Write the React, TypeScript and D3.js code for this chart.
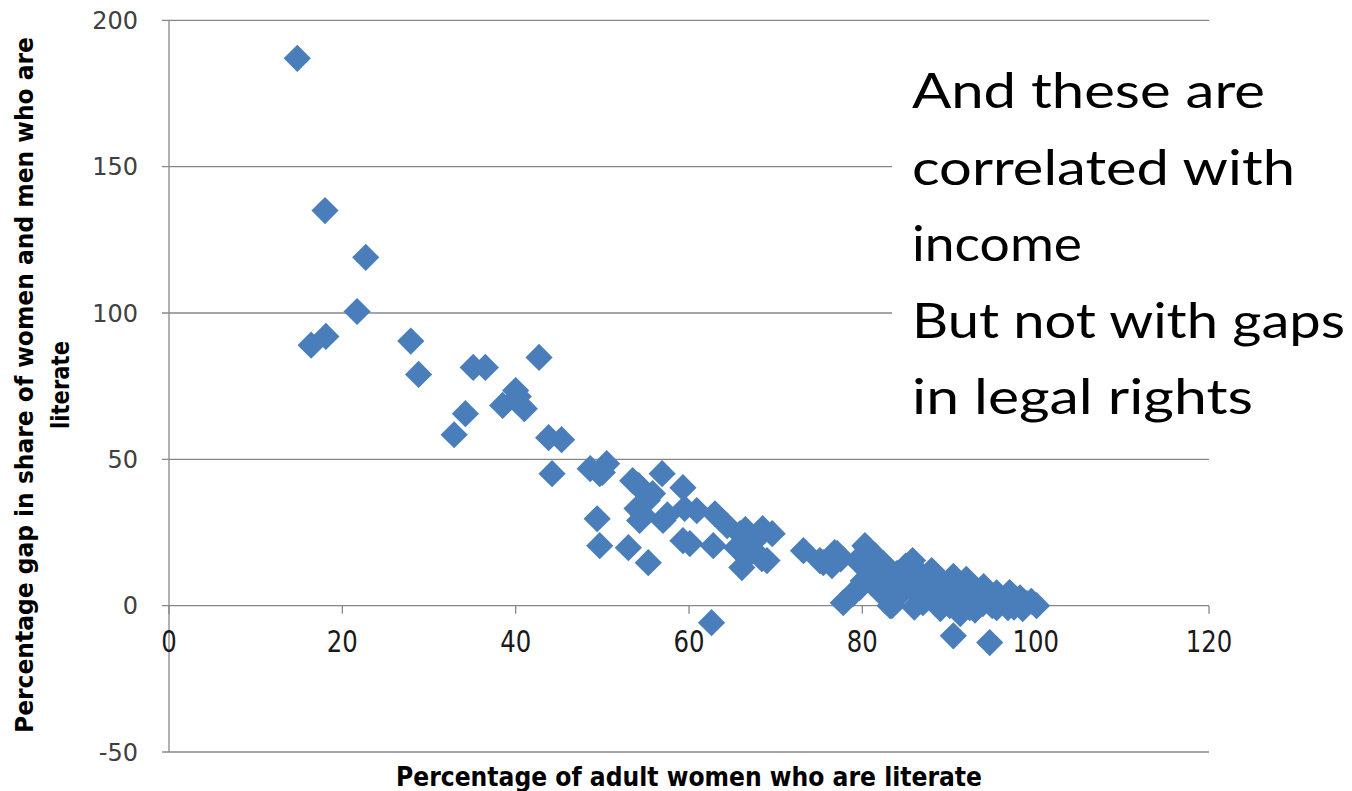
import * as d3 from "d3";

// women's literacy (%) vs literacy gap women/men (%)
const literacyWomen = [
  14.8, 18.0, 22.7, 21.7, 16.4, 18.1, 27.9, 28.8, 35.1, 36.5, 42.7, 34.2, 32.9, 40.0, 40.3, 38.5, 41.0, 43.8, 45.3, 44.2,
  48.6, 50.5, 50.0, 49.7, 53.5, 54.2, 56.9, 54.7, 55.8, 55.2, 59.3, 54.0, 54.3, 54.7, 57.0, 57.5, 59.5, 60.9, 63.0, 64.4,
  65.9, 66.5, 68.5, 69.6, 59.3, 60.1, 62.8, 65.5, 66.1, 67.0, 68.4, 67.5, 66.0, 49.4, 49.7, 53.0, 55.3, 62.6, 73.2, 75.5,
  76.8, 76.5, 77.5, 69.0, 75.1, 77.1,
  80.3, 79.4, 80.9, 82.4, 83.2, 81.5, 80.1, 81.2, 82.4, 81.0, 84.0, 77.8, 78.9, 83.2, 84.7, 85.8, 85.5, 86.6, 86.3, 87.0,
  88.2, 89.0, 90.1, 91.6, 92.5, 88.6, 89.5, 90.1, 91.3, 92.4, 93.6, 95.5, 96.7, 98.2, 100.1, 99.0, 93.9, 95.5, 96.8, 98.5,
  97.5, 94.5, 87.5, 90.5, 94.7, 85.8, 88.0, 92.0, 90.5, 94.0, 97.0, 89.0, 91.0, 86.0, 93.0, 95.0, 79.7, 83.4, 80.5,
  82.0, 83.5, 84.5, 86.0, 87.5, 88.5, 90.0, 91.5, 92.5, 94.0, 96.0, 97.5, 99.5, 89.0, 87.0, 84.0, 82.0, 95.0, 91.0, 86.5,
  88.5, 85.0, 93.0, 96.5,
];
const literacyGap = [
  187.0, 135.0, 119.0, 100.5, 89.0, 92.0, 90.4, 79.0, 81.4, 81.4, 84.8, 65.6, 58.4, 73.5, 71.5, 68.4, 67.3, 57.4, 56.7, 45.1,
  46.8, 48.5, 45.5, 45.1, 42.7, 41.0, 45.1, 39.3, 38.3, 36.0, 40.3, 33.2, 29.1, 31.0, 29.1, 31.0, 33.2, 32.5, 31.4, 27.3,
  24.6, 26.0, 26.3, 24.6, 22.2, 21.2, 20.5, 19.8, 13.0, 17.8, 16.1, 22.0, 21.0, 29.7, 20.5, 19.8, 14.7, -5.8, 18.8, 14.7,
  18.1, 13.7, 16.0, 15.4, 15.4, 17.8,
  20.5, 15.4, 15.4, 14.4, 12.0, 17.0, 8.5, 7.5, 8.5, 11.0, 11.0, 1.0, 4.1, 0.0, 5.1, 12.0, 8.5, 8.5, 4.1, 10.0,
  9.2, 8.5, 7.5, 6.2, 5.0, 1.7, 4.0, 0.0, -2.7, -0.7, 1.7, 4.4, 3.4, 2.7, 0.0, 0.7, 0.7, -0.7, -0.7, -1.0,
  1.0, 3.0, 3.0, -10.3, -12.6, 15.4, 12.0, 9.0, 10.0, 6.5, 4.5, 3.0, 2.0, -0.5, -1.5, 1.5, 6.2, 0.0, 19.8,
  13.0, 9.0, 7.0, 6.0, 6.5, 5.0, 4.0, 3.5, 2.5, 2.0, 1.5, -0.5, 1.5, -1.0, 1.0, 3.0, 5.0, 0.0, 0.5, 10.5,
  10.0, 13.5, 4.0, 2.0,
];
const xTicks = [0, 20, 40, 60, 80, 100, 120];
const yTicks = [-50, 0, 50, 100, 150, 200];
const noteLines = ["And these are", "correlated with", "income", "But not with gaps", "in legal rights"];
const noteWidths = [353, 383, 170, 433, 341];

const W = 1352;
const H = 791;
const GRID = "#878787";
const BLUE = "#4a7ebb";
const NARROW = "'Liberation Sans Narrow', 'DejaVu Sans Condensed', 'Liberation Sans', Arial, sans-serif";

export default function App() {
  const x = d3.scaleLinear().domain([0, 120]).range([169, 1209]);
  const y = d3.scaleLinear().domain([-50, 200]).range([752, 20.3]);
  const diamond = d3.symbol(d3.symbolSquare, 370)() as string;
  const pts = literacyWomen.map((v, i) => [v, literacyGap[i]] as [number, number]);

  return (
    <svg
      width={W}
      height={H}
      style={{ position: "absolute", left: 0, top: 0, background: "#fff" }}
    >
      {/* gridlines + y ticks */}
      {yTicks.map((t) => (
        <g key={t}>
          <line x1={162} x2={x(120)} y1={y(t)} y2={y(t)} stroke={GRID} strokeWidth={1.3} />
          <text
            x={138}
            y={y(t)}
            dy="0.36em"
            textAnchor="end"
            fontFamily="DejaVu Sans"
            fontSize={24}
            fill="#404040"
          >
            {t}
          </text>
        </g>
      ))}
      {/* y axis line */}
      <line x1={x(0)} x2={x(0)} y1={y(200)} y2={y(-50)} stroke={GRID} strokeWidth={1.3} />
      {/* x axis at zero + ticks */}
      {xTicks.map((t) => (
        <g key={t}>
          <line x1={x(t)} x2={x(t)} y1={y(0)} y2={y(0) + 8} stroke={GRID} strokeWidth={1.3} />
          <text
            x={x(t)}
            y={652}
            textAnchor="middle"
            fontFamily={NARROW}
            fontSize={31}
            fill="#1a1a1a"
            textLength={String(t).length * 15.5}
            lengthAdjust="spacingAndGlyphs"
          >
            {t}
          </text>
        </g>
      ))}

      {/* annotation box */}
      <rect x={892} y={45} width={W - 892} height={400} fill="#fff" />
      {noteLines.map((s, i) => (
        <text
          key={s}
          x={912}
          y={108 + i * 76.5}
          fontFamily="Lato"
          fontSize={48}
          fill="#000"
          textLength={noteWidths[i]}
          lengthAdjust="spacingAndGlyphs"
        >
          {s}
        </text>
      ))}

      {/* markers */}
      {pts.map(([a, b], i) => (
        <path
          key={i}
          d={diamond}
          transform={`translate(${x(a)},${y(b)}) rotate(45)`}
          fill={BLUE}
        />
      ))}

      {/* axis titles */}
      <text
        x={689}
        y={786}
        textAnchor="middle"
        fontFamily={NARROW}
        fontWeight="bold"
        fontSize={26}
        fill="#000"
        textLength={586}
        lengthAdjust="spacingAndGlyphs"
      >
        Percentage of adult women who are literate
      </text>
      <g transform="translate(0,385) rotate(-90)">
        <text
          x={0}
          y={33}
          textAnchor="middle"
          fontFamily={NARROW}
          fontWeight="bold"
          fontSize={25}
          fill="#000"
          textLength={696}
          lengthAdjust="spacingAndGlyphs"
        >
          Percentage gap in share of women and men who are
        </text>
        <text
          x={0}
          y={69}
          textAnchor="middle"
          fontFamily={NARROW}
          fontWeight="bold"
          fontSize={25}
          fill="#000"
          textLength={88}
          lengthAdjust="spacingAndGlyphs"
        >
          literate
        </text>
      </g>
    </svg>
  );
}
